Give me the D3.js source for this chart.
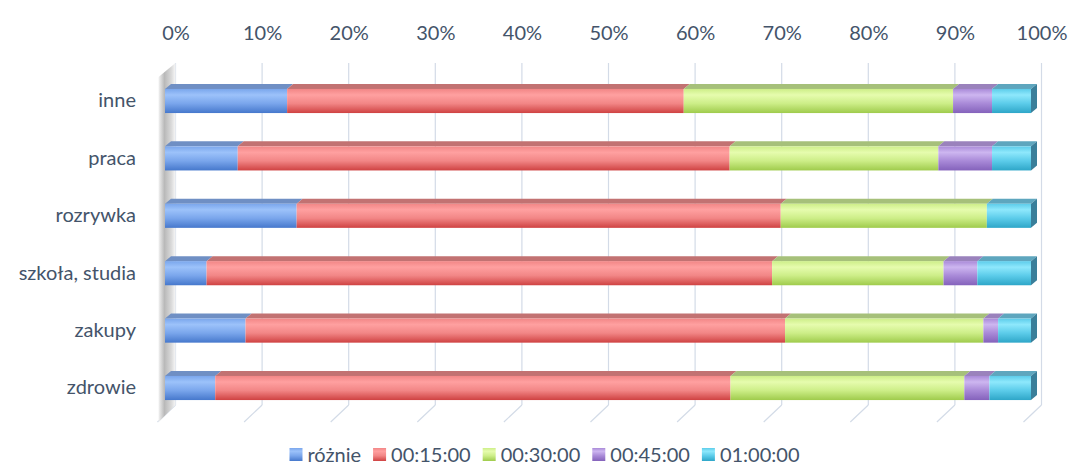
<!DOCTYPE html>
<html>
<head>
<meta charset="utf-8">
<script src="https://cdn.jsdelivr.net/npm/d3@7"></script>
<style>
  html, body { margin: 0; padding: 0; background: #ffffff; }
  svg { display: block; }
  text { font-family: Lato, "Open Sans", "Noto Sans", sans-serif; fill: #44546a; }
</style>
</head>
<body>
<svg id="chart" width="1070" height="466"></svg>
<script>
// ---- data ----
const categories = ["inne", "praca", "rozrywka", "szkoła, studia", "zakupy", "zdrowie"];
const seriesNames = ["różnie", "00:15:00", "00:30:00", "00:45:00", "01:00:00"];
const roznie   = [14.1,  8.4, 15.2,  4.8,  9.3,  5.8];
const m15      = [45.8, 56.8, 55.9, 65.3, 62.3, 59.5];
const m30      = [31.1, 24.1, 23.8, 19.8, 22.9, 27.0];
const m45      = [ 4.5,  6.2,  0.0,  3.9,  1.7,  2.9];
const h1       = [ 4.5,  4.5,  5.1,  6.2,  3.8,  4.8];
const tickValues = [0, 10, 20, 30, 40, 50, 60, 70, 80, 90, 100];

// colours: [top face, front light, front mid, front dark]
const palette = [
  { top: "#6f8fc4", light: "#9cc2fa", mid: "#7aa6ec", dark: "#4678cc" },
  { top: "#c27272", light: "#ffa0a0", mid: "#f28686", dark: "#cf4242" },
  { top: "#a6c07a", light: "#e6fcae", mid: "#cdee88", dark: "#9fcb4c" },
  { top: "#9a82bc", light: "#cdb6f0", mid: "#a98ad8", dark: "#8462bb" },
  { top: "#5ea6be", light: "#8ee8fc", mid: "#5cccea", dark: "#2ea6c8" }
];
const sideColor = "#3a7f9a";

const svg = d3.select("#chart");
const defs = svg.append("defs");

// table for stacking
const rows = categories.map((c, i) => ({
  cat: c, s0: roznie[i], s1: m15[i], s2: m30[i], s3: m45[i], s4: h1[i]
}));
const keys = ["s0", "s1", "s2", "s3", "s4"];
const stacked = d3.stack().keys(keys)(rows);

// ---- geometry ----
const x = d3.scaleLinear().domain([0, 100]).range([165, 1031]);
const y = d3.scaleBand().domain(categories).range([72.3, 416.7]).paddingInner(0.58).paddingOuter(0.29);
const backDx = 10.5;          // back wall offset
const wallTop = 63, wallBottom = 405;
const floorDx = -18, floorDy = 17;
const barDx = 6, barDy = -5;  // bar depth

// gradients
palette.forEach((p, i) => {
  const g = defs.append("linearGradient").attr("id", "grad" + i)
    .attr("x1", 0).attr("y1", 0).attr("x2", 0).attr("y2", 1);
  g.append("stop").attr("offset", "0%").attr("stop-color", p.mid);
  g.append("stop").attr("offset", "25%").attr("stop-color", p.light);
  g.append("stop").attr("offset", "60%").attr("stop-color", p.mid);
  g.append("stop").attr("offset", "100%").attr("stop-color", p.dark);
});
const wg = defs.append("linearGradient").attr("id", "wallGrad")
  .attr("x1", 0).attr("y1", 0).attr("x2", 1).attr("y2", 0);
wg.append("stop").attr("offset", "0%").attr("stop-color", "#f2f2f2");
wg.append("stop").attr("offset", "35%").attr("stop-color", "#b9b9b9");
wg.append("stop").attr("offset", "75%").attr("stop-color", "#d9d9d9");
wg.append("stop").attr("offset", "100%").attr("stop-color", "#f7f7f7");

// ---- back wall gridlines ----
const grid = svg.append("g");
tickValues.forEach(v => {
  const bx = x(v) + backDx;
  grid.append("line")
    .attr("x1", bx).attr("x2", bx).attr("y1", wallTop).attr("y2", wallBottom)
    .attr("stroke", "#d3dbe7").attr("stroke-width", 1.2);
  grid.append("line")
    .attr("x1", bx).attr("y1", wallBottom)
    .attr("x2", bx + floorDx).attr("y2", wallBottom + floorDy)
    .attr("stroke", "#d3dbe7").attr("stroke-width", 1.2);
});

// ---- left side wall ----
const wx = x(0) + backDx;
svg.append("path")
  .attr("d", `M${wx},${wallTop} L${wx + floorDx + 1},${wallTop + 14} L${wx + floorDx + 1},${wallBottom + floorDy} L${wx},${wallBottom} Z`)
  .attr("fill", "url(#wallGrad)");

// ---- top axis labels ----
const axisG = svg.append("g")
  .attr("transform", `translate(${backDx},40)`)
  .call(d3.axisTop(x).tickValues(tickValues).tickFormat(d => d + "%").tickSize(0).tickPadding(0));
axisG.select(".domain").remove();
axisG.selectAll("text")
  .style("font-size", "20px")
  .attr("fill", "#44546a")
  .attr("dy", 0)
  .style("font-family", "Lato, 'Open Sans', sans-serif");

// ---- category labels ----
const yAxisG = svg.append("g")
  .attr("transform", `translate(136,0)`)
  .call(d3.axisLeft(y).tickSize(0).tickPadding(0));
yAxisG.select(".domain").remove();
yAxisG.selectAll("text")
  .style("font-size", "20px")
  .attr("fill", "#44546a")
  .style("font-family", "Lato, 'Open Sans', sans-serif");

// ---- bars ----
const barsG = svg.append("g");
const bh = y.bandwidth();
stacked.forEach((layer, si) => {
  const p = palette[si];
  layer.forEach((d, ci) => {
    const x0 = x(d[0]), x1 = x(d[1]);
    if (x1 - x0 < 0.01) return;
    const yt = y(categories[ci]);
    const g = barsG.append("g");
    // top face
    g.append("path")
      .attr("d", `M${x0},${yt} L${x0 + barDx},${yt + barDy} L${x1 + barDx},${yt + barDy} L${x1},${yt} Z`)
      .attr("fill", p.top);
    // front face
    g.append("rect")
      .attr("x", x0).attr("y", yt).attr("width", x1 - x0).attr("height", bh)
      .attr("fill", `url(#grad${si})`);
    // right side face on last segment
    if (si === stacked.length - 1) {
      g.append("path")
        .attr("d", `M${x1},${yt} L${x1 + barDx},${yt + barDy} L${x1 + barDx},${yt + bh + barDy} L${x1},${yt + bh} Z`)
        .attr("fill", sideColor);
    }
  });
});

// ---- legend ----
const legend = svg.append("g");
const lgY = 462;
const sw = 13, gapSw = 5, gapItem = 12;
const items = seriesNames.map((name, i) => ({ name, i }));
// measure
const tmp = legend.append("g");
const widths = items.map(it => {
  const t = tmp.append("text").style("font-size", "20px").text(it.name);
  const w = t.node().getComputedTextLength();
  t.remove();
  return w;
});
tmp.remove();
const total = d3.sum(widths) + items.length * (sw + gapSw) + (items.length - 1) * gapItem;
let cx = 544.5 - total / 2;
items.forEach((it, k) => {
  legend.append("rect")
    .attr("x", cx).attr("y", lgY - 14).attr("width", sw).attr("height", sw)
    .attr("fill", `url(#grad${it.i})`);
  legend.append("text")
    .attr("x", cx + sw + gapSw).attr("y", lgY)
    .style("font-size", "20px")
    .text(it.name);
  cx += sw + gapSw + widths[k] + gapItem;
});
</script>
</body>
</html>
